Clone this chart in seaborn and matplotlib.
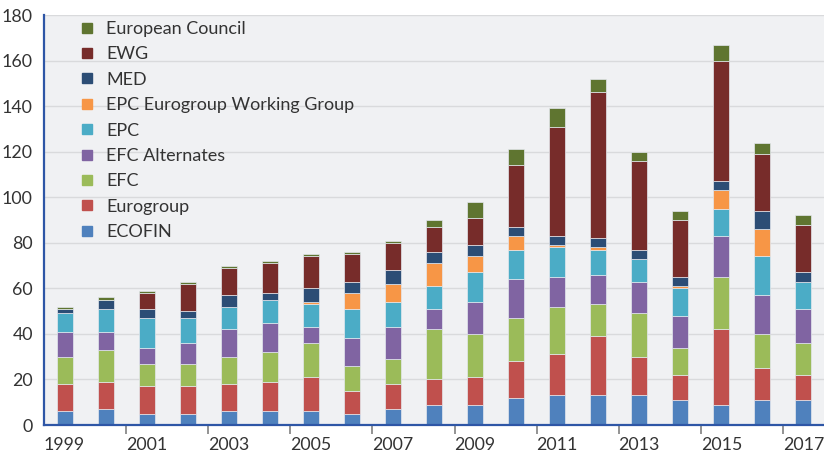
import matplotlib
matplotlib.use("Agg")
import matplotlib.pyplot as plt
from matplotlib.lines import Line2D
import seaborn as sns
import numpy as np
import pandas as pd

years = [str(y) for y in range(1999, 2018)]
ecofin = [6, 7, 5, 5, 6, 6, 6, 5, 7, 9, 9, 12, 13, 13, 13, 11, 9, 11, 11]
eurogroup = [12, 12, 12, 12, 12, 13, 15, 10, 11, 11, 12, 16, 18, 26, 17, 11, 33, 14, 11]
efc = [12, 14, 10, 10, 12, 13, 15, 11, 11, 22, 19, 19, 21, 14, 19, 12, 23, 15, 14]
efc_alt = [11, 8, 7, 9, 12, 13, 7, 12, 14, 9, 14, 17, 13, 13, 14, 14, 18, 17, 15]
epc = [8, 10, 13, 11, 10, 10, 10, 13, 11, 10, 13, 13, 13, 11, 10, 12, 12, 17, 12]
epc_ewg = [0, 0, 0, 0, 0, 0, 1, 7, 8, 10, 7, 6, 1, 1, 0, 1, 8, 12, 0]
med = [2, 4, 4, 3, 5, 3, 6, 5, 6, 5, 5, 4, 4, 4, 4, 4, 4, 8, 4]
ewg = [0, 0, 7, 12, 12, 13, 14, 12, 12, 11, 12, 27, 48, 64, 39, 25, 53, 25, 21]
european_council = [1, 1, 1, 1, 1, 1, 1, 1, 1, 3, 7, 7, 8, 6, 4, 4, 7, 5, 4]

series_names = ["ECOFIN", "Eurogroup", "EFC", "EFC Alternates", "EPC",
                "EPC Eurogroup Working Group", "MED", "EWG", "European Council"]
series_values = [ecofin, eurogroup, efc, efc_alt, epc, epc_ewg, med, ewg, european_council]
colors = ["#4F81BD", "#C0504D", "#9BBB59", "#8064A2", "#4BACC6",
          "#F79646", "#2C4D75", "#772C2A", "#5F7530"]

sns.set_theme(style="white")
plt.rcParams["font.family"] = ["Lato", "DejaVu Sans"]

fig = plt.figure(figsize=(8.24, 4.55), dpi=100)
ax = fig.add_axes([44 / 824, 30 / 455, 780 / 824, 410 / 455])
ax.set_facecolor("#F0F1F3")

bottom = np.zeros(len(years))
for name, vals, col in zip(series_names, series_values, colors):
    df = pd.DataFrame({"year": years, "value": vals})
    sns.barplot(data=df, x="year", y="value", color=col, width=0.39,
                bottom=bottom, edgecolor="#E4E8EE", linewidth=0.5,
                saturation=1, ax=ax, zorder=3)
    bottom = bottom + np.array(vals)

ax.set_xlim(-0.5, len(years) - 0.5)
ax.set_ylim(0, 180)
ax.set_yticks(range(0, 181, 20))
ax.yaxis.grid(True, color="#D9DADC", linewidth=1.0, zorder=0)
ax.set_axisbelow(True)
ax.set_xlabel("")
ax.set_ylabel("")

for s in ["top", "right"]:
    ax.spines[s].set_visible(False)
for s in ["left", "bottom"]:
    ax.spines[s].set_color("#2E56A6")
    ax.spines[s].set_linewidth(1.6)
    ax.spines[s].set_zorder(5)

# x labels at odd years, tick marks between bars
label_pos = list(range(0, len(years), 2))
ax.set_xticks(label_pos, [years[i] for i in label_pos])
ax.tick_params(axis="x", which="major", length=0, pad=9, labelsize=12.8,
               labelcolor="#333333")
ax.set_xticks([i + 0.5 for i in range(0, len(years) - 1, 2)], minor=True)
ax.tick_params(axis="x", which="minor", length=3.6, width=1.2, color="#808080",
               direction="out")
sec = ax.secondary_xaxis("bottom")
sec.set_xticks([i + 0.5 for i in range(1, len(years) - 1, 2)], [""] * 9)
sec.tick_params(axis="x", length=6.5, width=1.2, color="#808080")
sec.spines["bottom"].set_visible(False)

ax.tick_params(axis="y", length=0, pad=8, labelsize=12.8, labelcolor="#333333")

handles = [Line2D([0], [0], marker="s", linestyle="none", markersize=6.5,
                  markerfacecolor=c, markeredgecolor=c)
           for c in colors[::-1]]
leg = ax.legend(handles, series_names[::-1], loc="upper left",
                bbox_to_anchor=(78 / 824, 1 - 21 / 455),
                bbox_transform=fig.transFigure, frameon=False,
                fontsize=13, labelspacing=0.52, handlelength=1.0,
                handletextpad=0.55, borderpad=0, borderaxespad=0)
for t in leg.get_texts():
    t.set_color("#333333")

fig.savefig("out.png", dpi=100)
